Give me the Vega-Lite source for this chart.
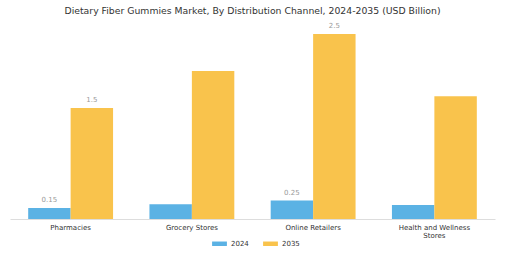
{
  "$schema": "https://vega.github.io/schema/vega-lite/v6.json",
  "autosize": {"type": "none"},
  "padding": {"left": 10, "top": 34, "right": 10, "bottom": 34},
  "width": 485,
  "height": 185,
  "background": "white",
  "title": {
    "text": "Dietary Fiber Gummies Market, By Distribution Channel, 2024-2035 (USD Billion)",
    "font": "DejaVu Sans",
    "fontSize": 9.3,
    "fontWeight": "normal",
    "color": "#333333",
    "anchor": "middle",
    "frame": "group",
    "offset": 6
  },
  "config": {"view": {"stroke": null}, "font": "DejaVu Sans"},
  "data": {
    "values": [
      {"channel": "Pharmacies", "year": "2024", "value": 0.15},
      {"channel": "Pharmacies", "year": "2035", "value": 1.5},
      {"channel": "Grocery Stores", "year": "2024", "value": 0.2},
      {"channel": "Grocery Stores", "year": "2035", "value": 2.0},
      {"channel": "Online Retailers", "year": "2024", "value": 0.25},
      {"channel": "Online Retailers", "year": "2035", "value": 2.5},
      {"channel": "Health and Wellness Stores", "year": "2024", "value": 0.19},
      {"channel": "Health and Wellness Stores", "year": "2035", "value": 1.66}
    ]
  },
  "encoding": {
    "x": {
      "field": "channel",
      "type": "nominal",
      "sort": null,
      "scale": {"paddingInner": 0.3, "paddingOuter": 0.15},
      "axis": {
        "title": null,
        "labelAngle": 0,
        "labelFontSize": 7,
        "labelColor": "#333333",
        "labelPadding": 4,
        "ticks": false,
        "domainColor": "#dddddd",
        "labelExpr": "datum.value == 'Health and Wellness Stores' ? ['Health and Wellness', 'Stores'] : datum.value",
        "labelLineHeight": 8
      }
    },
    "xOffset": {"field": "year", "type": "nominal", "scale": {"paddingInner": 0}},
    "y": {
      "field": "value",
      "type": "quantitative",
      "scale": {"domain": [0, 2.5]},
      "axis": null
    }
  },
  "layer": [
    {
      "mark": {"type": "bar", "clip": false},
      "encoding": {
        "color": {
          "field": "year",
          "type": "nominal",
          "scale": {"domain": ["2024", "2035"], "range": ["#5bb2e4", "#f9c34c"]},
          "legend": {
            "title": null,
            "orient": "none",
            "legendX": 202,
            "legendY": 202,
            "direction": "horizontal",
            "labelFontSize": 7,
            "labelColor": "#333333",
            "symbolType": "M-1,-0.3L1,-0.3L1,0.3L-1,0.3Z",
            "symbolSize": 220,
            "symbolStrokeWidth": 0,
            "symbolOffset": 0,
            "columnPadding": 14
          }
        }
      }
    },
    {
      "transform": [{"filter": "datum.channel == 'Pharmacies' || datum.channel == 'Online Retailers'"}],
      "mark": {"type": "text", "baseline": "bottom", "dy": -5, "fontSize": 7, "color": "#999999"},
      "encoding": {"text": {"field": "value", "type": "quantitative"}}
    }
  ]
}
